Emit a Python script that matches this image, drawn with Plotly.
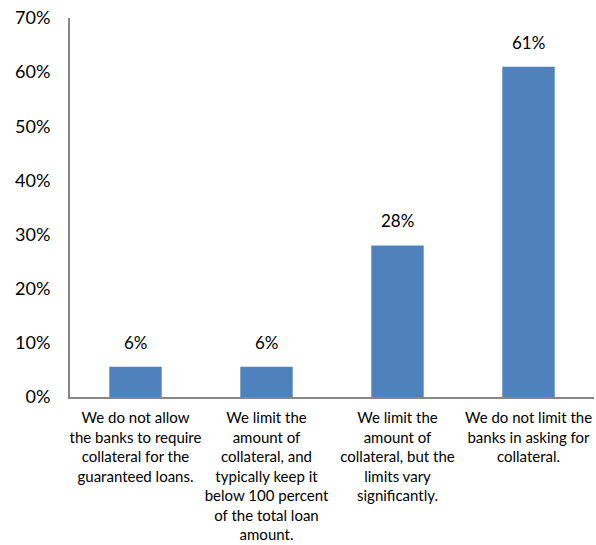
import plotly.graph_objects as go

categories = [
    "We do not allow<br>the banks to require<br>collateral for the<br>guaranteed loans.",
    "We limit the<br>amount of<br>collateral, and<br>typically keep it<br>below 100 percent<br>of the total loan<br>amount.",
    "We limit the<br>amount of<br>collateral, but the<br>limits vary<br>significantly.",
    "We do not limit the<br>banks in asking for<br>collateral.",
]
values = [5.6, 5.6, 28, 61]
labels = ["6%", "6%", "28%", "61%"]
y_ticks = [0, 10, 20, 30, 40, 50, 60, 70]
y_tick_text = ["0%", "10%", "20%", "30%", "40%", "50%", "60%", "70%"]

FONT = "Lato"

fig = go.Figure()
fig.add_trace(go.Bar(
    x=categories, y=values,
    marker=dict(color="#4F81BD", line=dict(width=0)),
    hoverinfo="skip",
))

for c, v, t in zip(categories, values, labels):
    fig.add_annotation(
        x=c, y=v, text=t, showarrow=False,
        yanchor="bottom", yshift=12,
        font=dict(family=FONT, size=17, color="#000000"),
    )

fig.update_layout(
    width=596, height=545,
    margin=dict(l=70, r=2, t=18, b=148),
    paper_bgcolor="white", plot_bgcolor="white",
    bargap=0.6,
    showlegend=False,
    font=dict(family=FONT, color="#000000"),
)
fig.update_xaxes(
    showline=True, linecolor="#868686", linewidth=2,
    showgrid=False, ticks="", zeroline=False,
    tickfont=dict(family=FONT, size=15, color="#000000"),
    ticklabelstandoff=6,
    automargin=False,
)
fig.update_yaxes(
    range=[0, 70], tickvals=y_ticks, ticktext=y_tick_text,
    showline=True, linecolor="#868686", linewidth=2,
    showgrid=False, ticks="", zeroline=False,
    tickfont=dict(family=FONT, size=18, color="#000000"),
    ticklabelstandoff=14,
    automargin=False,
)

fig.write_html(
    "out.html",
    config={"displayModeBar": False},
    post_script="document.body.style.margin='0';document.body.style.overflow='hidden';",
)
